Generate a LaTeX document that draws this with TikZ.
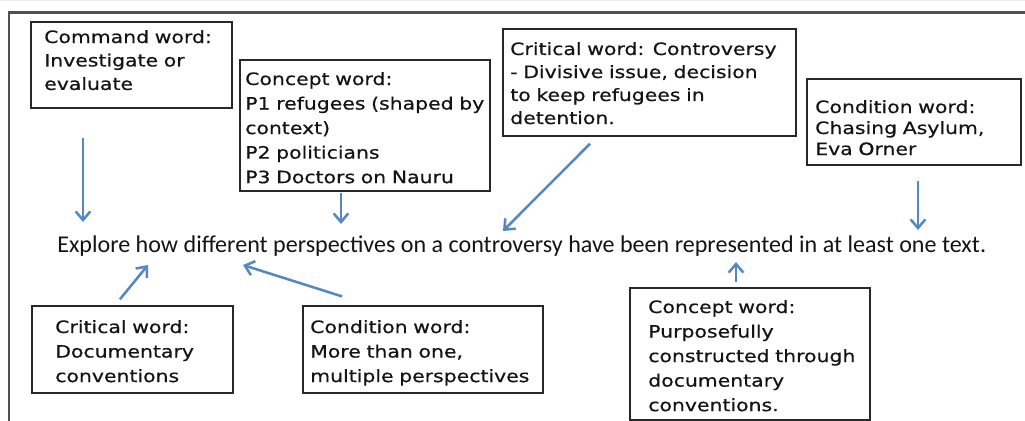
\documentclass[tikz,border=0pt]{standalone}
\usepackage{fontspec}
\setmainfont{Carlito}
\newfontfamily\handfont[FakeStretch=1.2,FakeBold=0.6]{DejaVu Sans}
\usetikzlibrary{arrows.meta,fit}
\definecolor{arrowblue}{RGB}{86,136,192}
\definecolor{frameline}{RGB}{80,80,80}
\definecolor{boxline}{RGB}{40,40,40}
\definecolor{inkgrey}{RGB}{20,20,20}
\begin{document}
\begin{tikzpicture}[x=0.75pt,y=-0.75pt,
  wordbox/.style={draw=boxline, line width=1.1pt, inner sep=0pt},
  wordtext/.style={anchor=base west, inner sep=0pt, text width=230pt,
    align=left, text=inkgrey, font=\handfont\fontsize{12.75pt}{#1}\selectfont},
  pointer/.style={draw=arrowblue, line width=1.9pt,
    -{Straight Barb[length=6.5pt,width=11pt]}}]
\useasboundingbox (0,0) rectangle (1025,421);

% page strip and outer frame
\fill[black!8] (0,0) rectangle (1025,1.5);
\draw[frameline, line width=1.6pt] (9,421) -- (9,12.5) -- (1025,12.5);

% the task statement
\node[anchor=base west, inner sep=0pt, text=inkgrey,
  font=\fontsize{18.05pt}{20pt}\selectfont] (task) at (57,252)
  {Explore how different perspectives on a controversy have been represented in at least one text.};

% word boxes
\node[wordbox, fit={(31,22) (232,108)}] (cmd) {};
\node[wordtext=17.6pt] (cmdtxt) at (44,43)
  {Command word:\\Investigate or\\evaluate};

\node[wordbox, fit={(240,60) (490,191)}] (conA) {};
\node[wordtext=18.4pt] (conAtxt) at (245,85)
  {Concept word:\\P1 refugees (shaped by\\context)\\P2 politicians\\P3 Doctors on Nauru};

\node[wordbox, fit={(503,29) (796,136)}] (critA) {};
\node[wordtext=17.25pt] (critAtxt) at (510,55)
  {Critical word: Controversy\\- Divisive issue, decision\\to keep refugees in\\detention.};

\node[wordbox, fit={(807,79) (1021,165)}] (condA) {};
\node[wordtext=15.75pt] (condAtxt) at (815,113)
  {Condition word:\\Chasing Asylum,\\Eva Orner};

\node[wordbox, fit={(32,306) (233,393)}] (critB) {};
\node[wordtext=18.4pt] (critBtxt) at (55,333)
  {Critical word:\\Documentary\\conventions};

\node[wordbox, fit={(303,306) (543,393)}] (condB) {};
\node[wordtext=18.4pt] (condBtxt) at (310,333)
  {Condition word:\\More than one,\\multiple perspectives};

\node[wordbox, fit={(630,288) (870,420)}] (conB) {};
\node[wordtext=18.4pt] (conBtxt) at (648,313)
  {Concept word:\\Purposefully\\constructed through\\documentary\\conventions.};

% arrow tips beside the task statement
\coordinate (tipcmd) at (83,222);
\coordinate (tipconA) at (341,224);
\coordinate (tipcritA) at (503,231);
\coordinate (tipcondA) at (918,230);
\coordinate (tipcritB) at (148,265);
\coordinate (tipcondB) at (243,265);
\coordinate (tipconB) at (736,262);

% arrows
\draw[pointer, shorten <=21.75pt] (cmd.south -| tipcmd) -- (tipcmd);
\draw[pointer, shorten <=0.75pt] (conA.south -| tipconA) -- (tipconA);
\draw[pointer, shorten <=7.4pt] (critA.south -| 597,0) -- (tipcritA);
\draw[pointer, shorten <=11.25pt] (condA.south -| tipcondA) -- (tipcondA);
\draw[pointer, shorten <=5.8pt] (critB.north -| 115,0) -- (tipcritB);
\draw[pointer, shorten <=21.9pt] (condB.north -| 370,0) -- (tipcondB);
\draw[pointer, shorten <=3.75pt] (conB.north -| tipconB) -- (tipconB);
\end{tikzpicture}
\end{document}
